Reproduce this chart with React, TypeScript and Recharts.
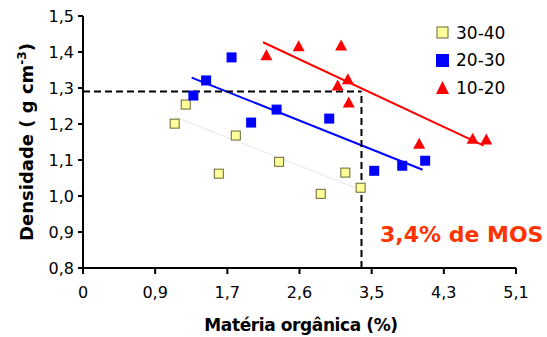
import React from 'react';
import {
  ScatterChart,
  Scatter,
  XAxis,
  YAxis,
  ReferenceLine,
  Label,
} from 'recharts';

// x-axis tick positions and the labels shown under them
const xTicks = [0, 0.85, 1.7, 2.55, 3.4, 4.25, 5.1];
const xTickLabels = ['0', '0,9', '1,7', '2,6', '3,5', '4,3', '5,1'];
const yTicks = [0.8, 0.9, 1.0, 1.1, 1.2, 1.3, 1.4, 1.5];

// 30-40 cm
const mos3040 = [1.08, 1.21, 1.6, 1.8, 2.31, 2.8, 3.09, 3.27];
const ds3040 = [1.201, 1.254, 1.062, 1.168, 1.095, 1.006, 1.065, 1.023];
// 20-30 cm
const mos2030 = [1.3, 1.45, 1.75, 1.98, 2.28, 2.9, 3.43, 3.76, 4.03];
const ds2030 = [1.279, 1.321, 1.385, 1.204, 1.24, 1.215, 1.07, 1.084, 1.098];
// 10-20 cm
const mos1020 = [2.16, 2.54, 3.0, 3.04, 3.12, 3.13, 3.96, 4.59, 4.75];
const ds1020 = [1.391, 1.416, 1.307, 1.418, 1.324, 1.26, 1.145, 1.159, 1.157];

// trend line end points [x1, y1, x2, y2]
const trend3040 = [1.07, 1.221, 3.27, 1.017];
const trend2030 = [1.28, 1.329, 4.0, 1.073];
const trend1020 = [2.12, 1.427, 4.72, 1.14];

// critical MOS marker
const critX = 3.28;
const critY = 1.29;

const toPoints = (xs: number[], ys: number[]) => xs.map((x, i) => ({ x, y: ys[i] }));

const font = '"DejaVu Sans", Verdana, sans-serif';

const YellowSquare = (p: any) => (
  <rect x={p.cx - 4.5} y={p.cy - 4.5} width={9} height={9} fill="#ffff99" stroke="#666633" strokeWidth={1} />
);
const BlueSquare = (p: any) => (
  <rect x={p.cx - 5} y={p.cy - 5} width={10} height={10} fill="#0000ff" />
);
const RedTriangle = (p: any) => (
  <polygon points={`${p.cx},${p.cy - 6} ${p.cx + 6},${p.cy + 5} ${p.cx - 6},${p.cy + 5}`} fill="#ff0000" />
);

const legendItems = [
  { name: '30-40', icon: <rect x={1} y={1} width={11} height={11} fill="#ffff99" stroke="#666633" /> },
  { name: '20-30', icon: <rect x={0} y={0} width={13} height={13} fill="#0000ff" /> },
  { name: '10-20', icon: <polygon points="6.5,0 13,13 0,13" fill="#ff0000" /> },
];

const LegendBox = () => (
  <div style={{ position: 'absolute', left: 436, top: 19, fontFamily: font, fontSize: 17, color: '#000' }}>
    {legendItems.map((it) => (
      <div key={it.name} style={{ display: 'flex', alignItems: 'center', height: 27.5 }}>
        <svg width={13} height={13} style={{ marginRight: 7 }}>{it.icon}</svg>
        <span>{it.name}</span>
      </div>
    ))}
  </div>
);

export default function App() {
  const seg = (t: number[]) => [{ x: t[0], y: t[1] }, { x: t[2], y: t[3] }];
  return (
    <div style={{ position: 'absolute', left: 0, top: 0, width: 547, height: 337, background: '#fff' }}>
      <ScatterChart width={547} height={337} margin={{ top: 16, right: 31, bottom: 39, left: 33 }}>
        <XAxis
          type="number"
          dataKey="x"
          domain={[0, 5.1]}
          ticks={xTicks}
          interval={0}
          tickFormatter={(v: number, i: number) => xTickLabels[i]}
          height={30}
          axisLine={{ stroke: '#000', strokeWidth: 2 }}
          tickLine={{ stroke: '#000', strokeWidth: 2 }}
          tickSize={6}
          tickMargin={13}
          tick={{ fill: '#000', fontSize: 16, fontFamily: font }}
        >
          <Label
            content={() => (
              <text
                x={301}
                y={331}
                textAnchor="middle"
                fontFamily={font}
                fontWeight="bold"
                fontSize={17}
                letterSpacing={-0.4}
                fill="#000"
              >
                Matéria orgânica (%)
              </text>
            )}
          />
        </XAxis>
        <YAxis
          type="number"
          dataKey="y"
          domain={[0.8, 1.5]}
          ticks={yTicks}
          interval={0}
          tickFormatter={(v: number) => v.toFixed(1).replace('.', ',')}
          width={50}
          axisLine={{ stroke: '#000', strokeWidth: 2 }}
          tickLine={{ stroke: '#000', strokeWidth: 2 }}
          tickSize={5}
          tickMargin={4}
          tick={{ fill: '#000', fontSize: 16, fontFamily: font }}
        >
          <Label
            content={() => (
              <text
                x={33}
                y={142}
                transform="rotate(-90 33 142)"
                textAnchor="middle"
                fontFamily={font}
                fontWeight="bold"
                fontSize={18}
                fill="#000"
              >
                Densidade ( g cm
                <tspan fontSize={12} dy={-7}>-3</tspan>
                <tspan dy={7}>)</tspan>
              </text>
            )}
          />
        </YAxis>
        <ReferenceLine segment={seg(trend3040)} stroke="#e6e6e6" strokeWidth={1} ifOverflow="visible" />
        <ReferenceLine segment={seg(trend2030)} stroke="#0000ff" strokeWidth={2} ifOverflow="visible" />
        <ReferenceLine segment={seg(trend1020)} stroke="#ff0000" strokeWidth={2} ifOverflow="visible" />
        <ReferenceLine
          segment={[{ x: 0, y: critY }, { x: critX, y: critY }]}
          stroke="#000"
          strokeWidth={2}
          strokeDasharray="7 4"
          ifOverflow="visible"
        />
        <ReferenceLine
          segment={[{ x: critX, y: 0.8 }, { x: critX, y: critY }]}
          stroke="#000"
          strokeWidth={2}
          strokeDasharray="7 4"
          ifOverflow="visible"
        />
        <Scatter name="30-40" data={toPoints(mos3040, ds3040)} shape={YellowSquare} isAnimationActive={false} />
        <Scatter name="20-30" data={toPoints(mos2030, ds2030)} shape={BlueSquare} isAnimationActive={false} />
        <Scatter name="10-20" data={toPoints(mos1020, ds1020)} shape={RedTriangle} isAnimationActive={false} />
      </ScatterChart>
      <LegendBox />
      <div
        style={{
          position: 'absolute',
          left: 380,
          top: 222,
          fontFamily: font,
          fontWeight: 'bold',
          fontSize: 22,
          color: '#ff3300',
          whiteSpace: 'nowrap',
        }}
      >
        3,4% de MOS
      </div>
    </div>
  );
}
